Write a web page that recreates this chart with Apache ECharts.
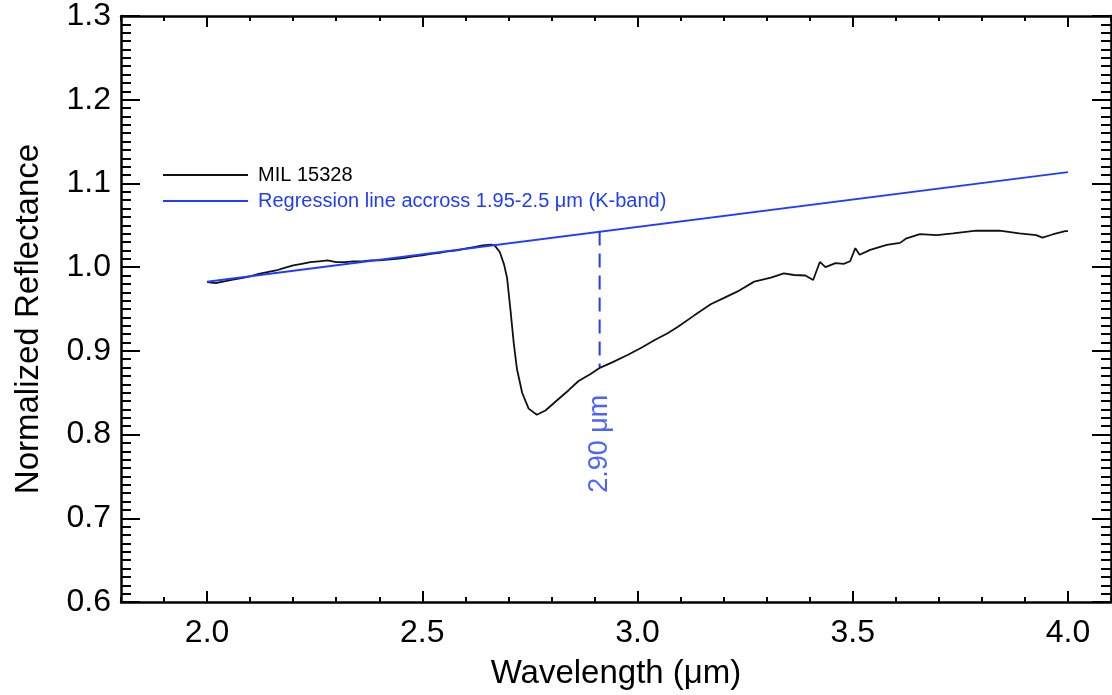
<!DOCTYPE html>
<html>
<head>
<meta charset="utf-8">
<script src="https://cdn.jsdelivr.net/npm/echarts@6/dist/echarts.min.js"></script>
<style>
html,body{margin:0;padding:0;background:#fff;}
#chart{width:1112px;height:695px;}
</style>
</head>
<body>
<div id="chart"></div>
<script>
// ---- data ----
var waveX = [2.00,2.02,2.04,2.06,2.08,2.10,2.12,2.14,2.16,2.18,2.20,2.22,2.24,2.26,2.28,2.30,2.32,2.34,2.36,2.38,2.40,2.42,2.44,2.46,2.48,2.50,2.52,2.54,2.56,2.58,2.60,2.62,2.64,2.66,2.668,2.68,2.69,2.697,2.705,2.7125,2.72,2.732,2.747,2.766,2.786,2.80,2.8165,2.84,2.863,2.89,2.9135,2.94,2.978,3.01,3.04,3.07,3.094,3.132,3.171,3.20,3.2325,3.271,3.31,3.34,3.3635,3.39,3.408,3.4236,3.4366,3.46,3.479,3.494,3.506,3.516,3.5406,3.579,3.61,3.625,3.656,3.695,3.733,3.787,3.841,3.887,3.926,3.941,3.964,3.9935,4.00];
var reflY = [0.982,0.981,0.983,0.985,0.987,0.989,0.992,0.994,0.996,0.999,1.002,1.004,1.006,1.007,1.008,1.006,1.006,1.007,1.007,1.008,1.008,1.009,1.010,1.011,1.013,1.014,1.016,1.017,1.019,1.020,1.022,1.024,1.026,1.027,1.026,1.018,1.003,0.987,0.948,0.909,0.878,0.850,0.831,0.8237,0.8288,0.835,0.8425,0.853,0.864,0.872,0.880,0.886,0.8954,0.904,0.913,0.921,0.9287,0.9424,0.956,0.963,0.971,0.9827,0.9874,0.9925,0.9906,0.990,0.9847,1.0062,1.000,1.0047,1.004,1.007,1.0227,1.0148,1.0207,1.0266,1.029,1.0344,1.0395,1.0383,1.0403,1.0435,1.0435,1.0403,1.0383,1.0353,1.039,1.043,1.043];
var regX = [2.0, 4.0];
var regY = [0.9825, 1.1135];
var bandX = [2.912, 2.912];
var bandY = [1.0427, 0.880];
var bandLabelPos = [2.912, 0.789];
var xMajorTicks = [2.0, 2.5, 3.0, 3.5, 4.0];
var seriesNames = ['MIL 15328', 'Regression line accross 1.95-2.5 \u03bcm (K-band)'];
var bandLabel = '2.90 \u03bcm';

var BLUE = '#1f3cff';
var FONT = 'Liberation Sans, Arial, Helvetica, sans-serif';

function zip(a, b) { return a.map(function (v, i) { return [v, b[i]]; }); }

var chart = echarts.init(document.getElementById('chart'));

function xMajor(pos, labels) {
  return {
    type: 'value', position: pos, min: 1.8, max: 4.1, gridIndex: 0,
    axisLine: { show: true, onZero: false, lineStyle: { color: '#000', width: 2.5 } },
    axisTick: { show: true, inside: true, length: 11, customValues: xMajorTicks, lineStyle: { color: '#000', width: 2 } },
    axisLabel: { show: labels, customValues: xMajorTicks, margin: 15, color: '#000', fontSize: 32, fontFamily: FONT,
      formatter: function (v) { return v.toFixed(1); } },
    splitLine: { show: false }
  };
}
function xMinor(pos) {
  return {
    type: 'value', position: pos, min: 1.8, max: 4.1, interval: 0.1, gridIndex: 0,
    axisLine: { show: false, onZero: false },
    axisTick: { show: true, inside: true, length: 5, lineStyle: { color: '#000', width: 2 } },
    axisLabel: { show: false },
    splitLine: { show: false }
  };
}
function yAx(pos, labels) {
  return {
    type: 'value', position: pos, min: 0.6, max: 1.3, interval: 0.1, gridIndex: 0,
    axisLine: { show: true, onZero: false, lineStyle: { color: '#000', width: 2.5 } },
    axisTick: { show: true, inside: true, length: 19, lineStyle: { color: '#000', width: 2 } },
    minorTick: { show: true, splitNumber: 10, length: 10, lineStyle: { color: '#000', width: 2 } },
    axisLabel: { show: labels, margin: 10, color: '#000', fontSize: 32, fontFamily: FONT,
      formatter: function (v) { return v.toFixed(1); } },
    splitLine: { show: false }
  };
}

var xb = xMajor('bottom', true);
xb.name = 'Wavelength (\u03bcm)';
xb.nameLocation = 'middle';
xb.nameGap = 55;
xb.nameTextStyle = { fontSize: 33, color: '#000', fontFamily: FONT };
var yl = yAx('left', true);
yl.name = 'Normalized Reflectance';
yl.nameLocation = 'middle';
yl.nameGap = 76;
yl.nameTextStyle = { fontSize: 33, color: '#000', fontFamily: FONT, padding: [0, 20, 0, 0] };

chart.setOption({
  backgroundColor: '#fff',
  animation: false,
  grid: { left: 121, right: 1, top: 14, bottom: 85, containLabel: false },
  legend: {
    left: 163, top: 162, orient: 'vertical', itemGap: 0, padding: 0,
    icon: 'rect', itemWidth: 85, itemHeight: 2,
    textStyle: { fontSize: 20, fontFamily: FONT, lineHeight: 26, padding: [0, 0, 0, 5] },
    data: [
      { name: seriesNames[0], textStyle: { color: '#000' } },
      { name: seriesNames[1], textStyle: { color: BLUE } }
    ]
  },
  xAxis: [xb, xMinor('bottom'), xMajor('top', false), xMinor('top')],
  yAxis: [yl, yAx('right', false)],
  series: [
    {
      name: seriesNames[0], type: 'line', xAxisIndex: 0, yAxisIndex: 0,
      data: zip(waveX, reflY), symbol: 'none', smooth: false,
      lineStyle: { color: '#111', width: 1.8 }, itemStyle: { color: '#111' }, z: 3
    },
    {
      name: seriesNames[1], type: 'line', xAxisIndex: 0, yAxisIndex: 0,
      data: zip(regX, regY), symbol: 'none',
      lineStyle: { color: BLUE, width: 2 }, itemStyle: { color: BLUE }, z: 4
    },
    {
      name: 'band', type: 'line', xAxisIndex: 0, yAxisIndex: 0,
      data: zip(bandX, bandY), symbol: 'none',
      lineStyle: { color: BLUE, width: 2, type: [14, 8] }, z: 2
    },
    {
      name: 'bandLabel', type: 'scatter', xAxisIndex: 0, yAxisIndex: 0,
      data: [bandLabelPos], symbolSize: 0,
      label: { show: true, position: 'inside', rotate: 90, formatter: bandLabel,
        color: BLUE, fontSize: 27, fontFamily: FONT }
    }
  ]
});
</script>
</body>
</html>
